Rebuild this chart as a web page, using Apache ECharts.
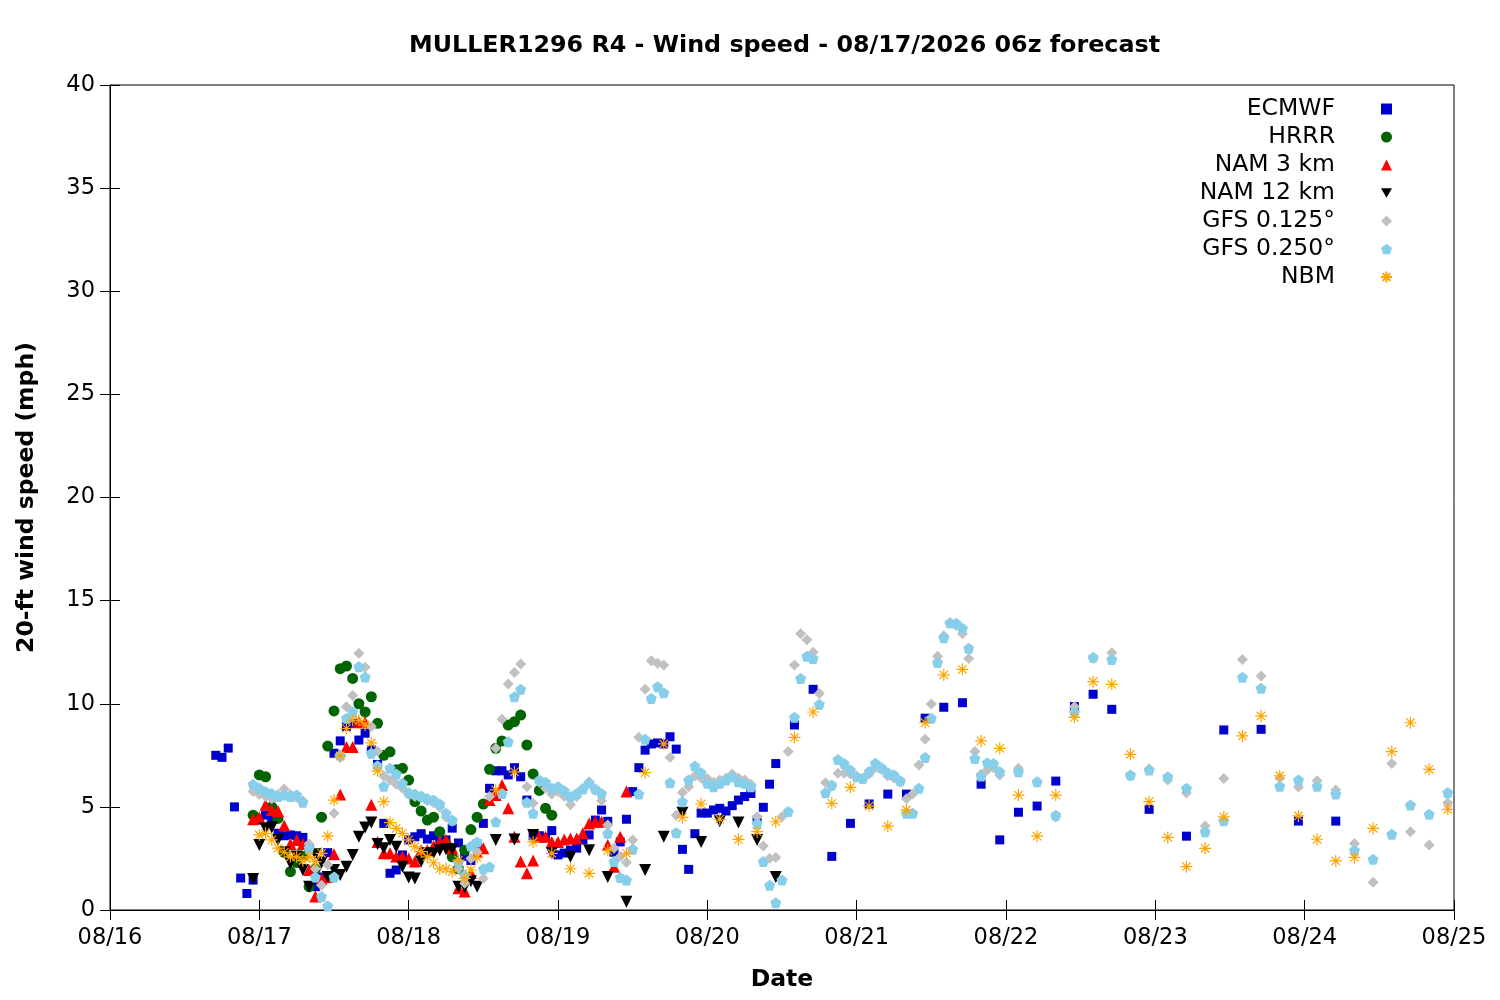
<!DOCTYPE html>
<html>
<head>
<meta charset="utf-8">
<title>MULLER1296 R4 - Wind speed</title>
<script src="https://cdn.jsdelivr.net/npm/echarts@6/dist/echarts.min.js"></script>
<style>
    html, body { margin: 0; padding: 0; background: #fff; }
    #chart { width: 1500px; height: 1000px; }
</style>
</head>
<body>
<div id="chart"></div>
<script>
// x = hours after 08/16 00:00, y = wind speed (mph)
var dateLabels = ['08/16', '08/17', '08/18', '08/19', '08/20', '08/21', '08/22', '08/23', '08/24', '08/25'];

var ecmwf = [
    [17,7.5],[18,7.4],[19,7.85],[20,5.0],[21,1.55],[22,0.8],[23,1.45],[24,4.36],[25,4.6],[26,4.44],[27,3.72],[28,3.6],
    [29,3.64],[30,3.6],[31,3.52],[32,3.0],[33,1.13],[34,1.6],[35,2.78],[36,7.6],[37,8.2],[38,8.9],[39,9.05],[40,8.24],
    [41,8.57],[42,7.76],[43,7.06],[44,4.2],[45,1.78],[46,1.94],[47,2.67],[48,3.4],[49,3.55],[50,3.7],[51,3.44],[52,3.6],
    [53,3.3],[54,3.4],[55,3.97],[56,3.25],[57,2.6],[58,2.4],[59,3.2],[60,4.2],[61,5.9],[62,6.75],[63,6.75],[64,6.55],
    [65,6.9],[66,6.46],[67,5.33],[68,3.6],[69,3.6],[70,3.5],[71,3.85],[72,2.67],[73,2.76],[74,2.9],[75,3.0],[76,3.4],
    [77,3.64],[78,4.36],[79,4.85],[80,4.3],[81,2.8],[82,3.3],[83,4.4],[84,5.74],[85,6.9],[86,7.75],[87,8.05],[88,8.1],
    [89,8.05],[90,8.4],[91,7.8],[92,2.94],[93,1.97],[94,3.7],[95,4.7],[96,4.7],[97,4.85],[98,4.93],[99,4.8],[100,5.06],
    [101,5.33],[102,5.5],[103,5.65],[104,4.36],[105,4.98],[106,6.1],[107,7.1],[110,8.97],[113,10.7],[116,2.6],[119,4.2],
    [122,5.14],[125,5.62],[128,5.62],[131,9.3],[134,9.83],[137,10.05],[140,6.1],[143,3.4],[146,4.74],[149,5.04],[152,6.25],
    [155,9.86],[158,10.46],[161,9.73],[167,4.88],[173,3.58],[179,8.73],[185,8.76],[191,4.31],[197,4.31]
];

var hrrr = [
    [23,4.6],[24,6.55],[25,6.46],[26,5.0],[27,4.44],[28,2.8],[29,1.86],[30,2.3],[31,2.6],[32,1.13],[33,2.0],[34,4.5],
    [35,7.95],[36,9.65],[37,11.7],[38,11.83],[39,11.23],[40,10.0],[41,9.6],[42,10.34],[43,9.05],[44,7.5],[45,7.67],[46,6.8],
    [47,6.87],[48,6.3],[49,5.25],[50,4.8],[51,4.36],[52,4.5],[53,3.8],[54,3.2],[55,2.58],[56,2.0],[57,2.9],[58,3.9],
    [59,4.5],[60,5.14],[61,6.82],[62,7.84],[63,8.2],[64,8.97],[65,9.13],[66,9.45],[67,8.0],[68,6.6],[69,5.8],[70,4.93],[71,4.6]
];

var nam3 = [
    [23,4.4],[24,4.5],[25,5.1],[26,4.85],[27,4.8],[28,4.1],[29,3.2],[30,3.4],[31,3.2],[32,1.94],[33,0.65],[34,1.5],
    [35,1.6],[36,2.7],[37,5.6],[38,7.9],[39,7.9],[40,9.1],[41,9.1],[42,5.1],[43,3.3],[44,2.75],[45,2.75],[46,2.6],
    [47,2.6],[48,2.5],[49,2.35],[50,2.9],[51,2.9],[52,3.1],[53,3.3],[54,3.4],[55,3.0],[56,1.05],[57,0.9],[58,1.8],
    [59,2.8],[60,3.0],[61,5.33],[62,5.58],[63,6.06],[64,4.93],[65,3.55],[66,2.35],[67,1.78],[68,2.4],[69,3.55],[70,3.55],
    [71,3.3],[72,3.3],[73,3.42],[74,3.47],[75,3.47],[76,3.72],[77,4.2],[78,4.28],[79,4.28],[80,3.15],[81,2.1],[82,3.55],[83,5.74]
];

var nam12 = [
    [23,1.5],[24,3.15],[25,3.95],[26,4.0],[27,3.4],[28,2.8],[29,2.25],[30,2.6],[31,1.94],[32,1.13],[33,2.7],[34,2.3],
    [35,1.6],[36,1.94],[37,1.7],[38,2.1],[39,2.67],[40,3.55],[41,4.0],[42,4.24],[43,3.2],[44,3.0],[45,3.4],[46,3.07],
    [47,2.1],[48,1.58],[49,1.53],[50,2.35],[51,2.75],[52,2.75],[53,2.9],[54,2.94],[55,2.94],[56,1.13],[57,1.1],[58,1.4],
    [59,1.13],[62,3.4],[65,3.42],[68,3.64],[71,2.75],[74,2.58],[77,2.9],[80,1.6],[83,0.4],[86,1.94],[89,3.55],[92,4.72],
    [95,3.3],[98,4.3],[101,4.24],[104,3.4],[107,1.6]
];

var gfs125 = [
    [23,5.74],[24,5.6],[25,5.5],[26,5.4],[27,5.6],[28,5.87],[29,5.6],[30,5.45],[31,5.3],[32,3.2],[33,2.0],[34,1.2],
    [35,2.2],[36,4.69],[37,7.4],[38,9.86],[39,10.4],[40,12.45],[41,11.77],[42,8.9],[43,7.7],[44,6.5],[45,6.3],[46,6.1],
    [47,5.9],[48,5.6],[49,5.5],[50,5.45],[51,5.3],[52,5.2],[53,5.0],[54,4.5],[55,4.3],[56,2.0],[57,1.3],[58,2.5],
    [59,2.8],[60,1.53],[61,5.5],[62,7.84],[63,9.25],[64,10.96],[65,11.52],[66,11.93],[67,5.98],[68,5.17],[69,6.2],[70,5.9],
    [71,5.62],[72,5.75],[73,5.5],[74,5.1],[75,5.5],[76,5.9],[77,6.22],[78,5.8],[79,5.3],[80,4.12],[81,3.0],[82,2.6],
    [83,2.3],[84,3.4],[85,8.37],[86,10.7],[87,12.09],[88,11.96],[89,11.88],[90,7.4],[91,4.6],[92,5.7],[93,5.98],[94,6.5],
    [95,6.4],[96,6.38],[97,6.2],[98,6.3],[99,6.4],[100,6.6],[101,6.4],[102,6.3],[103,6.1],[104,4.52],[105,3.1],[106,2.5],
    [107,2.55],[108,4.52],[109,7.68],[110,11.88],[111,13.4],[112,13.1],[113,12.5],[114,10.5],[115,6.17],[116,6.0],[117,6.63],[118,6.63],
    [119,6.6],[120,6.5],[121,6.4],[122,6.6],[123,6.9],[124,6.8],[125,6.5],[126,6.4],[127,6.2],[128,5.4],[129,5.62],[130,7.03],
    [131,8.28],[132,9.99],[133,12.3],[134,13.3],[135,13.9],[136,13.8],[137,13.4],[138,12.2],[139,7.68],[140,6.6],[141,6.79],[142,6.9],
    [143,6.55],[146,6.87],[149,6.2],[152,4.5],[155,9.85],[158,12.2],[161,12.47],[164,6.5],[167,6.85],[170,6.3],[173,5.67],[176,4.07],
    [179,6.38],[182,12.15],[185,11.35],[188,6.4],[191,5.96],[194,6.27],[197,5.82],[200,3.23],[203,1.34],[206,7.1],[209,3.8],[212,3.15],[215,5.2]
];

var gfs250 = [
    [23,6.1],[24,5.9],[25,5.74],[26,5.65],[27,5.5],[28,5.58],[29,5.5],[30,5.58],[31,5.22],[32,3.0],[33,1.6],[34,0.65],
    [35,0.2],[36,1.6],[37,7.5],[38,9.3],[39,9.6],[40,11.8],[41,11.3],[42,7.6],[43,7.0],[44,6.0],[45,6.87],[46,6.6],
    [47,6.14],[48,5.7],[49,5.62],[50,5.53],[51,5.41],[52,5.33],[53,5.14],[54,4.69],[55,4.36],[56,2.3],[57,1.7],[58,3.1],
    [59,3.3],[60,2.0],[61,2.1],[62,4.28],[63,5.65],[64,8.16],[65,10.34],[66,10.7],[67,5.22],[68,4.69],[69,6.3],[70,6.2],
    [71,5.9],[72,5.98],[73,5.78],[74,5.5],[75,5.65],[76,5.87],[77,6.14],[78,5.87],[79,5.65],[80,3.72],[81,2.35],[82,1.58],
    [83,1.45],[84,2.94],[85,5.62],[86,8.28],[87,10.26],[88,10.83],[89,10.53],[90,6.17],[91,3.75],[92,5.25],[93,6.3],[94,6.98],
    [95,6.66],[96,6.14],[97,5.98],[98,6.14],[99,6.3],[100,6.46],[101,6.22],[102,6.14],[103,5.98],[104,4.2],[105,2.35],[106,1.2],
    [107,0.35],[108,1.45],[109,4.77],[110,9.34],[111,11.23],[112,12.3],[113,12.2],[114,9.97],[115,5.69],[116,6.06],[117,7.3],[118,7.1],
    [119,6.79],[120,6.46],[121,6.38],[122,6.71],[123,7.11],[124,6.9],[125,6.66],[126,6.55],[127,6.27],[128,4.69],[129,4.69],[130,5.9],
    [131,7.4],[132,9.3],[133,12.0],[134,13.2],[135,13.93],[136,13.9],[137,13.66],[138,12.69],[139,7.35],[140,6.5],[141,7.14],[142,7.1],
    [143,6.7],[146,6.7],[149,6.22],[152,4.6],[155,9.6],[158,12.25],[161,12.15],[164,6.55],[167,6.79],[170,6.46],[173,5.9],[176,3.8],
    [179,4.33],[182,11.28],[185,10.75],[188,6.0],[191,6.3],[194,6.0],[197,5.62],[200,2.9],[203,2.46],[206,3.67],[209,5.09],[212,4.64],[215,5.7]
];

var nbm = [
    [24,3.64],[25,3.72],[26,3.4],[27,3.0],[28,2.8],[29,2.58],[30,2.58],[31,2.39],[32,2.58],[33,2.35],[34,2.75],[35,3.58],
    [36,5.33],[37,7.47],[38,8.8],[39,9.2],[40,9.2],[41,8.97],[42,8.1],[43,6.75],[44,5.25],[45,4.24],[46,3.96],[47,3.72],
    [48,3.4],[49,3.07],[50,2.83],[51,2.58],[52,2.29],[53,2.0],[54,2.0],[55,1.86],[56,2.42],[57,1.53],[58,1.94],[59,2.55],
    [62,5.82],[65,6.7],[68,3.3],[71,2.75],[74,2.0],[77,1.78],[80,2.88],[83,2.75],[86,6.66],[89,8.05],[92,4.49],[95,5.14],
    [98,4.4],[101,3.42],[104,3.8],[107,4.28],[110,8.37],[113,9.6],[116,5.17],[119,5.95],[122,5.04],[125,4.07],[128,4.85],[131,9.08],
    [134,11.4],[137,11.67],[140,8.2],[143,7.84],[146,5.57],[149,3.58],[152,5.57],[155,9.34],[158,11.07],[161,10.94],[164,7.55],[167,5.25],
    [170,3.52],[173,2.1],[176,2.99],[179,4.52],[182,8.44],[185,9.41],[188,6.51],[191,4.56],[194,3.43],[197,2.38],[200,2.55],[203,3.96],
    [206,7.68],[209,9.08],[212,6.82],[215,4.88]
];

var font = 'DejaVu Sans';
var downTriangle = 'path://M0,0 L10,0 L5,8.7 Z';
var pentagon = 'path://M5,0 L9.76,3.45 L7.94,9.05 L2.06,9.05 L0.24,3.45 Z';
var asterisk = 'path://M0,5 L10,5 M5,0 L5,10 M1.5,1.5 L8.5,8.5 M8.5,1.5 L1.5,8.5';

function scatter(name, data, symbol, size, color) {
    return {
        name: name,
        type: 'scatter',
        data: data,
        symbol: symbol,
        symbolSize: size,
        itemStyle: { color: color, opacity: 1 },
        emphasis: { disabled: true }
    };
}

var chart = echarts.init(document.getElementById('chart'), null, { renderer: 'canvas' });

var tickStyle = { inside: true, length: 10, lineStyle: { color: '#000', width: 1 } };

var option = {
    animation: false,
    backgroundColor: '#fff',
    title: {
        text: 'MULLER1296 R4 - Wind speed - 08/17/2026 06z forecast',
        left: 404,
        top: 29,
        textStyle: { fontFamily: font, fontSize: 23.8, fontWeight: 'bold', color: '#000' }
    },
    legend: {
        orient: 'vertical',
        right: 107,
        top: 97,
        padding: 0,
        align: 'right',
        itemGap: 4,
        itemWidth: 11,
        itemHeight: 11,
        textStyle: { fontFamily: font, fontSize: 23.5, color: '#000', lineHeight: 24, padding: [0, 41, 0, 0] },
        data: ['ECMWF', 'HRRR', 'NAM 3 km', 'NAM 12 km', 'GFS 0.125°', 'GFS 0.250°', 'NBM']
    },
    grid: {
        left: 110, right: 46, top: 85, bottom: 90,
        show: true, borderColor: '#000', borderWidth: 1
    },
    xAxis: [{
        type: 'value',
        min: 0, max: 216, interval: 24,
        name: 'Date',
        nameLocation: 'middle',
        nameGap: 58,
        nameTextStyle: { fontFamily: font, fontSize: 23.5, fontWeight: 'bold', color: '#000' },
        axisLine: { lineStyle: { color: '#000' } },
        axisTick: tickStyle,
        splitLine: { show: false },
        axisLabel: {
            fontFamily: font, fontSize: 22.5, color: '#000', margin: 17,
            formatter: function(v) { return dateLabels[Math.round(v / 24)]; }
        }
    }, {
        type: 'value', position: 'top',
        min: 0, max: 216, interval: 24,
        axisLine: { lineStyle: { color: '#000' } },
        axisTick: tickStyle,
        axisLabel: { show: false },
        splitLine: { show: false }
    }],
    yAxis: [{
        type: 'value',
        min: 0, max: 40, interval: 5,
        name: '20-ft wind speed (mph)',
        nameLocation: 'middle',
        nameGap: 71,
        nameTextStyle: { fontFamily: font, fontSize: 23.5, fontWeight: 'bold', color: '#000' },
        axisLine: { show: true, lineStyle: { color: '#000' } },
        axisTick: tickStyle,
        splitLine: { show: false },
        axisLabel: { fontFamily: font, fontSize: 22.5, color: '#000', margin: 15 }
    }, {
        type: 'value', position: 'right',
        min: 0, max: 40, interval: 5,
        axisLine: { show: true, lineStyle: { color: '#000' } },
        axisTick: tickStyle,
        axisLabel: { show: false },
        splitLine: { show: false }
    }],
    series: [
        scatter('ECMWF', ecmwf, 'rect', 9, '#0000cc'),
        scatter('HRRR', hrrr, 'circle', 11, '#006400'),
        scatter('NAM 3 km', nam3, 'triangle', 12, '#ff0000'),
        scatter('NAM 12 km', nam12, downTriangle, 12, '#000000'),
        scatter('GFS 0.125°', gfs125, 'diamond', 11, '#c0c0c0'),
        scatter('GFS 0.250°', gfs250, pentagon, 11, '#87ceeb'),
        {
            name: 'NBM',
            type: 'scatter',
            data: nbm,
            symbol: asterisk,
            symbolSize: 12,
            itemStyle: { color: 'rgba(0,0,0,0)', borderColor: '#ffa500', borderWidth: 1.2, opacity: 1 },
            emphasis: { disabled: true }
        }
    ]
};

chart.setOption(option);
</script>
</body>
</html>
